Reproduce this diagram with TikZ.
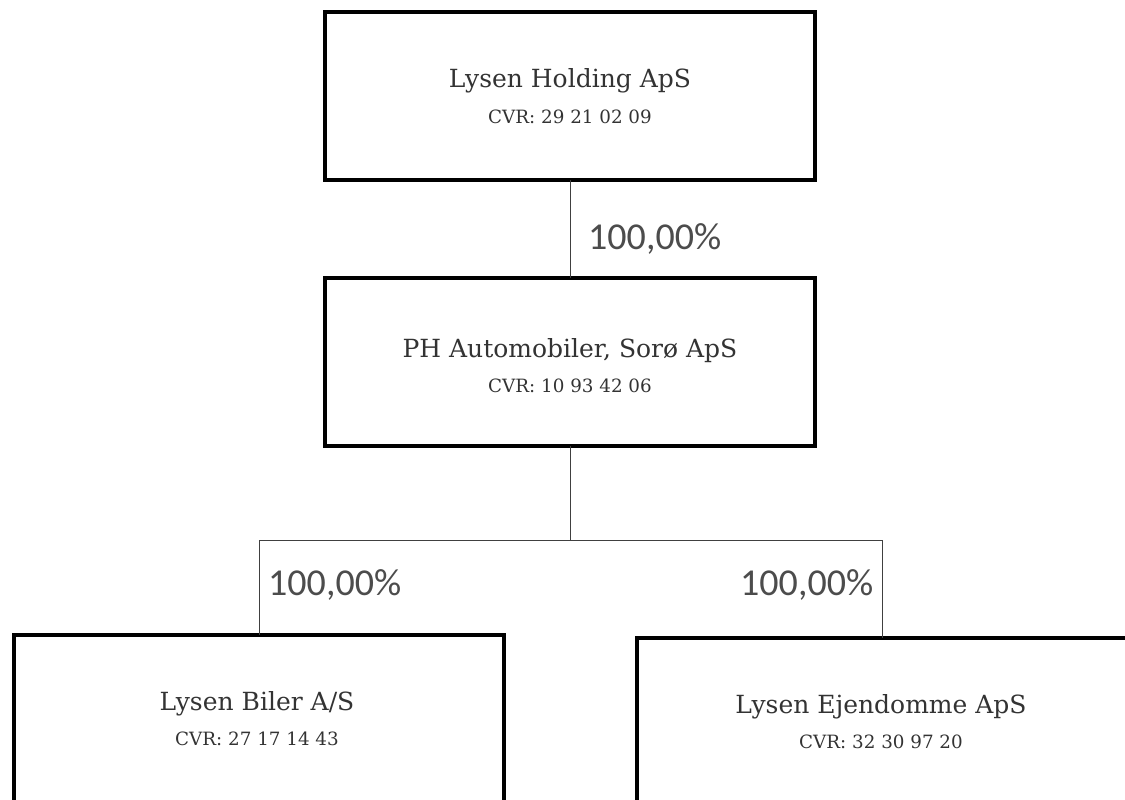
\documentclass[tikz,border=0pt]{standalone}
\usepackage{fontspec}
\setmainfont{DejaVu Serif}
\newfontfamily\pctfont{Carlito}
\begin{document}
\begin{tikzpicture}[x=1pt,y=-1pt,
  box/.style={draw=black,line width=4pt,minimum width=490pt,minimum height=168pt,inner sep=0pt,outer sep=0pt,fill=white},
  conn/.style={draw=black!75,line width=1pt},
  pct/.style={font=\pctfont\fontsize{38}{38}\selectfont,text=black!70,inner sep=0pt,anchor=base west},
  nm/.style={font=\fontsize{25}{25}\selectfont,text=black!80,inner sep=0pt,anchor=base},
  cvr/.style={font=\fontsize{18.3}{18.3}\selectfont,text=black!80,inner sep=0pt,anchor=base}]
\useasboundingbox (0,0) rectangle (1125,800);
\clip (0,0) rectangle (1125,800);
\fill[white] (0,0) rectangle (1125,800);
% boxes
\node[box] (hold) at (570,96) {};
\node[box] (ph) at (570,361.5) {};
\node[box] (biler) at (259,719) {};
\node[box] (ejd) at (882,722) {};
% texts
\node[nm] (holdn) at (570,88) {Lysen Holding ApS};
\node[cvr] (holdc) at (570,123) {CVR: 29 21 02 09};
\node[nm] (phn) at (570,357) {PH Automobiler, Sorø ApS};
\node[cvr] (phc) at (570,392) {CVR: 10 93 42 06};
\node[nm] (bilern) at (257,710) {Lysen Biler A/S};
\node[cvr] (bilerc) at (257,745) {CVR: 27 17 14 43};
\node[nm] (ejdn) at (881,713) {Lysen Ejendomme ApS};
\node[cvr] (ejdc) at (881,748) {CVR: 32 30 97 20};
% connectors
\coordinate (j) at (570,540);
\draw[conn] (hold.south) -- (ph.north);
\draw[conn] (ph.south) -- (j) -| (biler.north);
\draw[conn] (j) -| (ejd.north);
% percentages
\node[pct] (p1) at (588,249) {100,00\%};
\node[pct] (p2) at (268,595) {100,00\%};
\node[pct] (p3) at (740,595) {100,00\%};
\end{tikzpicture}
\end{document}
